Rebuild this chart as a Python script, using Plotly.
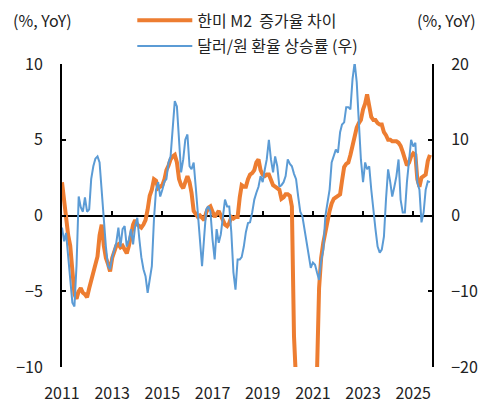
import plotly.graph_objects as go
import pandas as pd

# monthly, 2011-01 .. 2025-09
months = pd.date_range("2011-01-01", periods=177, freq="MS")

m2_gap = [
    2.2, 1.0, -0.5, -1.3, -2.0, -3.8, -5.2, -5.5, -5.0, -4.8, -5.1, -5.2,
    -5.4, -4.8, -4.3, -4.0, -3.3, -2.7, -1.3, -0.6, -2.0, -2.8, -3.2, -3.7,
    -2.8, -2.3, -2.0, -1.9, -2.1, -2.0, -2.3, -2.5, -2.0, -1.3, -0.6, -0.3,
    -0.6, -0.7, -0.8, -0.6, -0.3, 0.4, 1.3, 1.7, 2.4, 2.3, 1.8, 1.9,
    2.0, 2.4, 3.0, 3.3, 3.7, 3.9, 4.0, 3.5, 2.4, 2.0, 1.8, 2.2,
    2.6, 2.2, 1.5, 0.3, 0.1, -0.1, 0.0, -0.2, -0.3, 0.2, 0.5, 0.6,
    0.3, -0.1, 0.1, 0.3, 0.0, -0.4, -0.6, -0.7, -0.5, -0.1, -0.2, -0.1,
    -0.1, 1.2, 2.0, 1.9, 1.9, 2.4, 2.7, 2.8, 3.0, 3.5, 3.7, 3.0,
    2.7, 2.6, 2.7, 2.7, 2.4, 2.0, 1.9, 1.8, 1.7, 1.1, 1.2, 1.4,
    1.4, 1.3, 0.6, -8.0, -14.0, -16.0, -17.0, -17.5, -17.0, -16.5, -16.0, -15.5,
    -14.5, -13.0, -10.5, -4.8, -2.8, -1.8, -1.0, -0.2, 0.3, 0.8, 1.1, 1.2,
    1.3, 1.4, 2.3, 3.2, 3.4, 3.5, 4.0, 4.6, 5.0, 5.8, 6.1, 6.3,
    7.0, 7.4, 8.0, 7.1, 6.5, 6.3, 6.3, 6.1, 6.0, 6.0, 5.5, 5.3,
    5.0, 5.0, 4.9, 4.9, 4.9, 4.8, 4.6, 4.2, 3.7, 3.3, 3.5, 3.9,
    4.1, 4.0, 2.4, 1.9, 2.5, 2.6, 2.7, 3.6, 4.0,
]

usdkrw = [
    -1.6, -3.4, -2.3, -5.8, -9.0, -11.5, -12.0, -6.5, 2.5, 1.1, 0.5, 2.4,
    0.5, 0.8, 4.8, 6.5, 7.5, 7.8, 7.0, 3.0, -0.5, -4.1, -6.7, -7.1,
    -5.5, -4.5, -3.6, -1.6, -4.1, -1.8, -1.4, -4.1, -3.2, -1.8, -3.8, -1.4,
    -0.3, -3.2, -5.5, -7.1, -8.0, -10.2, -8.7, -6.7, -0.5, 3.4, 4.4, 2.5,
    3.4, 4.5, 4.8, 7.0, 7.8, 11.8, 15.1, 14.4, 10.0, 5.7, 7.4, 10.0,
    10.7, 6.5, 6.1, 7.0, 3.8, -0.1, -3.6, -6.7, -2.8, 0.8, 1.2, 0.5,
    -3.2, -5.8, -1.8, -3.6, -2.5, -0.1, 2.1, 1.2, 1.2, -2.2, -7.5, -9.8,
    -5.8, -5.8, -5.5, -4.1, -2.2, -1.0, -0.9, 0.4, 2.1, 3.0, 3.8, 5.2,
    4.4, 6.1, 7.4, 10.0, 7.4, 5.7, 7.8, 6.5, 3.8, 4.0, 4.4, 5.2,
    7.4, 6.8, 6.5, 5.5, 4.8, 2.5, 0.5, -0.1, -2.0, -3.6, -5.4, -6.9,
    -6.2, -6.5, -7.5, -8.5, -6.0, -4.5, -0.1, 1.5, 3.4, 7.0, 8.0, 8.7,
    8.3, 11.0, 12.0, 12.3, 14.3, 14.3, 14.0, 18.0, 20.2, 17.6, 12.3, 7.4,
    4.4, 7.0, 6.1, 6.5, 3.4, 0.5, -1.8, -4.1, -4.9, -4.5, -2.8, 2.1,
    6.1, 4.4, 2.5, 3.8, 5.2, 7.4, 2.1, 0.4, 0.4, 4.4, 7.8, 10.0,
    9.1, 9.6, 4.4, 3.4, -0.9, 0.4, 3.4, 4.5, 4.4,
]

font_family = "Noto Sans CJK KR"
text_color = "#222222"

fig = go.Figure()
fig.add_trace(go.Scatter(
    x=months, y=m2_gap, mode="lines", name="한미 M2  증가율 차이",
    line=dict(color="#ED7D31", width=4), legendgroup="a",
))
fig.add_trace(go.Scatter(
    x=months, y=usdkrw, mode="lines", name="달러/원 환율 상승률 (우)",
    line=dict(color="#5B9BD5", width=2), legendgroup="b",
    xaxis="x2", yaxis="y2",
))

# page has an 8px body margin, so the figure is a bit smaller than the window
fig.update_layout(
    width=485,
    height=395,
    margin=dict(l=54, r=61, t=56, b=36, autoexpand=False),
    plot_bgcolor="white",
    paper_bgcolor="white",
    font=dict(family=font_family, size=16, color=text_color),
    showlegend=True,
    legend=dict(
        x=0.19, y=1.2, xanchor="left", yanchor="top",
        traceorder="grouped", tracegroupgap=2, itemwidth=55,
        bgcolor="rgba(0,0,0,0)", font=dict(size=16),
    ),
    xaxis=dict(
        range=["2011-01-01", "2025-10-01"],
        tick0="2011-01-01", dtick="M24", tickformat="%Y",
        showgrid=False, showline=False, zeroline=False,
        ticks="outside", ticklen=12, tickcolor="rgba(0,0,0,0)",
    ),
    xaxis2=dict(
        matches="x", overlaying="x", anchor="free", position=0.5,
        tick0="2011-01-01", dtick="M24",
        showgrid=False, showline=True, linecolor="black", linewidth=2,
        ticks="inside", ticklen=4, tickwidth=2, tickcolor="black",
        showticklabels=False, layer="below traces",
    ),
    yaxis=dict(
        range=[-10, 10], dtick=5, showgrid=False, zeroline=False,
        showline=True, linecolor="black", linewidth=2,
        ticks="inside", ticklen=4, tickwidth=2, tickcolor="black",
        ticklabelstandoff=14,
    ),
    yaxis2=dict(
        range=[-20, 20], dtick=10, overlaying="y", side="right", anchor="x2",
        showgrid=False, zeroline=False,
        showline=True, linecolor="black", linewidth=2,
        ticks="inside", ticklen=4, tickwidth=2, tickcolor="black",
        ticklabelstandoff=14,
    ),
    annotations=[
        dict(text="(%, YoY)", xref="paper", yref="paper", x=-0.054, y=1.145,
             xanchor="center", yanchor="middle", showarrow=False),
        dict(text="(%, YoY)", xref="paper", yref="paper", x=1.038, y=1.145,
             xanchor="center", yanchor="middle", showarrow=False),
    ],
)

fig.write_html("out.html")
